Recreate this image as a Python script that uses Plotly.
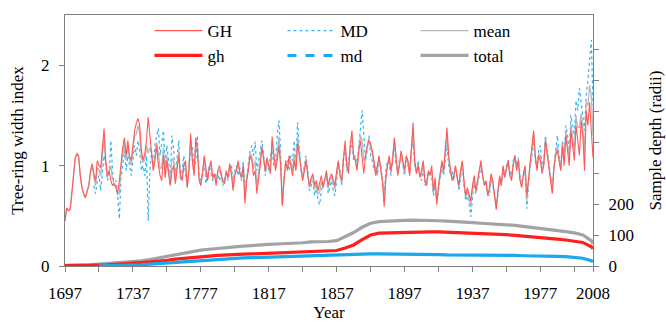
import plotly.graph_objects as go

years = list(range(1697, 2009))

GH = [
 0.45,0.58,0.55,0.56,0.72,0.95,1.08,1.12,1.10,0.90,
 0.78,0.72,0.68,0.74,0.80,0.95,1.02,0.92,0.85,1.05,
 1.00,0.98,1.15,1.37,1.05,0.90,0.95,0.85,0.80,0.82,
 0.78,0.72,0.85,1.05,1.18,1.28,1.10,1.25,1.10,1.05,
 1.20,1.35,1.42,1.47,1.40,1.15,1.05,1.12,1.25,1.48,
 1.30,1.10,0.95,1.05,1.20,1.00,0.90,0.85,1.10,0.88,
 1.05,0.92,0.80,0.95,1.00,0.82,0.95,1.10,0.90,0.85,
 1.00,1.05,0.78,0.95,1.32,1.05,0.90,1.28,1.15,0.85,
 0.80,0.92,1.10,0.95,0.85,0.98,1.05,0.88,0.92,0.80,
 0.95,1.00,0.90,0.85,0.82,0.95,0.88,1.02,0.92,0.75,
 0.90,0.95,1.05,0.92,0.88,1.00,0.62,0.85,0.95,1.10,
 1.05,0.90,0.95,0.72,0.85,1.00,1.18,1.05,0.95,1.08,
 1.00,0.92,1.29,1.10,0.95,1.05,1.20,1.00,0.60,0.85,
 1.05,0.95,1.10,1.00,0.90,1.05,0.95,1.22,1.10,1.00,
 0.85,0.95,1.05,0.90,0.80,0.88,0.92,0.80,0.85,0.75,
 0.82,0.90,0.78,0.85,0.95,0.80,0.88,0.92,0.85,0.80,
 0.95,1.05,0.90,0.85,1.05,1.25,1.00,0.92,1.20,1.35,
 1.10,1.05,0.95,1.15,1.25,1.05,0.92,1.10,1.20,1.25,
 1.22,1.15,1.05,0.90,1.00,1.10,0.95,0.85,0.59,0.88,
 1.00,1.10,0.95,1.05,1.28,1.10,0.90,1.00,1.15,1.05,
 0.95,1.10,1.05,0.90,1.20,1.43,1.05,0.92,1.00,0.88,
 0.95,1.05,0.85,0.80,0.95,0.90,1.00,0.75,0.88,0.61,
 0.80,0.92,1.05,0.95,1.15,1.38,1.10,0.95,0.85,0.90,
 1.00,0.88,0.80,0.95,1.05,0.85,0.70,0.78,0.72,0.65,
 0.80,0.90,0.75,0.85,0.95,1.05,0.90,0.80,0.85,0.70,
 0.78,0.92,0.85,0.68,0.56,0.75,0.90,0.80,1.00,0.88,
 0.95,1.05,0.90,0.85,1.00,1.10,0.95,1.05,0.85,0.78,
 0.92,1.00,0.70,0.88,1.05,1.20,1.35,1.10,0.95,1.10,
 1.05,0.92,1.00,1.25,1.10,0.95,0.85,0.72,0.98,1.10,
 1.15,1.05,0.95,1.20,1.00,1.30,1.15,1.00,1.35,1.20,
 1.05,1.40,1.25,1.10,1.45,1.30,0.95,1.55,1.40,1.63,
 1.35,1.08]

MD = [
 None,None,None,None,None,None,None,None,None,None,
 None,None,None,None,None,None,None,0.80,0.72,0.85,
 0.90,0.75,0.95,1.10,1.00,0.85,0.92,1.25,0.95,0.80,
 0.85,0.70,0.47,0.88,1.00,1.15,0.95,1.10,1.00,0.90,
 1.05,1.20,1.10,1.25,1.15,0.95,1.00,0.90,1.10,0.45,
 0.95,1.15,1.00,1.20,1.30,1.37,1.10,1.25,1.35,1.00,
 1.20,1.05,0.85,1.30,1.15,0.90,1.05,1.25,0.85,0.95,
 1.10,0.90,0.80,1.00,1.15,1.20,0.95,1.05,1.30,0.90,
 0.85,0.95,1.05,0.82,0.90,1.00,0.92,0.85,0.88,0.92,
 0.90,0.85,0.95,0.80,0.88,0.92,0.85,0.95,1.00,0.82,
 0.95,1.00,0.90,0.98,0.85,1.05,0.75,0.90,1.00,1.15,
 1.20,1.10,1.24,0.95,1.05,1.15,1.25,1.10,0.90,1.05,
 0.95,1.10,1.15,1.00,1.05,1.30,1.45,1.15,0.62,0.90,
 1.00,1.05,0.95,1.10,1.05,1.25,1.00,1.43,1.15,0.95,
 0.90,1.00,1.10,0.95,0.75,0.80,0.85,0.70,0.80,0.65,
 0.61,0.75,0.80,0.85,0.90,0.72,0.80,0.85,0.75,0.70,
 0.85,1.00,0.95,0.80,1.10,1.15,0.95,1.05,1.15,1.25,
 1.05,1.10,1.00,1.20,1.40,1.55,1.30,1.05,1.15,1.30,
 1.10,1.05,0.95,1.00,0.90,1.05,1.00,0.85,0.70,0.95,
 1.05,1.00,0.90,1.10,1.20,1.00,0.95,1.05,1.10,1.00,
 0.90,1.05,1.00,0.95,1.15,1.25,1.00,0.95,1.05,0.90,
 0.85,1.00,0.80,0.85,0.90,0.95,0.88,0.70,0.80,0.65,
 0.75,0.88,1.00,0.90,1.05,1.20,1.00,0.90,0.95,0.85,
 0.95,0.90,0.75,0.90,1.00,0.80,0.65,0.70,0.62,0.49,
 0.70,0.85,0.72,0.80,0.90,1.00,0.88,0.85,0.80,0.72,
 0.70,0.88,0.80,0.72,0.62,0.70,0.85,0.82,0.95,0.90,
 1.00,1.05,0.95,0.90,1.05,1.10,1.00,1.08,0.90,0.85,
 0.88,0.95,0.57,0.80,1.00,1.10,1.25,1.05,1.00,1.15,
 1.20,1.00,1.05,1.30,1.15,1.00,0.90,0.80,1.00,1.15,
 1.30,1.10,1.00,1.25,1.10,1.40,1.30,1.15,1.50,1.40,
 1.30,1.65,1.55,1.77,1.60,1.50,1.35,1.70,1.85,2.05,
 2.25,1.60]

MEAN = [
 0.45,0.57,0.55,0.56,0.72,0.94,1.07,1.11,1.09,0.90,
 0.78,0.72,0.68,0.74,0.80,0.93,1.00,0.88,0.80,0.98,
 0.96,0.90,1.08,1.28,1.03,0.88,0.94,1.00,0.86,0.81,
 0.80,0.71,0.72,0.99,1.12,1.23,1.05,1.20,1.07,1.00,
 1.15,1.30,1.31,1.40,1.32,1.08,1.03,1.05,1.20,1.12,
 1.18,1.12,0.97,1.10,1.23,1.12,0.97,0.98,1.18,0.92,
 1.10,0.96,0.82,1.07,1.05,0.85,0.98,1.15,0.88,0.88,
 1.03,0.99,0.79,0.97,1.26,1.10,0.92,1.20,1.20,0.87,
 0.82,0.93,1.08,0.90,0.87,0.99,1.00,0.87,0.90,0.84,
 0.93,0.95,0.92,0.83,0.84,0.94,0.87,0.99,0.95,0.78,
 0.92,0.97,0.99,0.94,0.87,1.02,0.67,0.87,0.97,1.12,
 1.10,0.97,1.05,0.80,0.92,1.05,1.20,1.07,0.93,1.07,
 0.98,0.99,1.24,1.06,0.99,1.13,1.29,1.05,0.61,0.87,
 1.03,0.98,1.05,1.04,0.95,1.12,0.97,1.29,1.12,0.98,
 0.87,0.97,1.07,0.92,0.78,0.85,0.90,0.76,0.83,0.71,
 0.74,0.84,0.79,0.85,0.93,0.77,0.85,0.89,0.81,0.76,
 0.91,1.03,0.92,0.83,1.07,1.21,0.98,0.97,1.18,1.31,
 1.08,1.07,0.97,1.17,1.30,1.25,1.05,1.08,1.18,1.27,
 1.18,1.12,1.02,0.93,0.97,1.08,0.97,0.85,0.63,0.90,
 1.02,1.07,0.93,1.07,1.25,1.07,0.92,1.02,1.13,1.03,
 0.93,1.08,1.03,0.92,1.18,1.36,1.03,0.93,1.02,0.89,
 0.92,1.03,0.83,0.82,0.93,0.92,0.95,0.73,0.85,0.63,
 0.78,0.90,1.03,0.93,1.12,1.31,1.06,0.93,0.89,0.88,
 0.98,0.89,0.78,0.93,1.03,0.83,0.68,0.75,0.68,0.59,
 0.76,0.88,0.74,0.83,0.93,1.03,0.89,0.82,0.83,0.71,
 0.75,0.90,0.83,0.70,0.58,0.73,0.88,0.81,0.98,0.89,
 0.97,1.05,0.92,0.87,1.02,1.10,0.97,1.06,0.87,0.80,
 0.90,0.98,0.65,0.85,1.03,1.16,1.31,1.08,0.97,1.12,
 1.10,0.95,1.02,1.27,1.12,0.97,0.87,0.75,0.99,1.12,
 1.20,1.07,0.97,1.22,1.04,1.34,1.21,1.06,1.41,1.28,
 1.15,1.50,1.38,1.38,1.52,1.39,1.12,1.63,1.60,1.80,
 1.70,1.30]

depth_years = list(range(1697, 2008, 5)) + [2008]

depth_total = [
 2,2,3,4,6,8,10,12,14,17,
 21,26,31,37,42,47,51,54,57,60,
 62,64,66,69,70,71,72,72,75,78,
 78,79,82,95,108,125,138,143,145,146,
 147,148,148,147,146,145,144,142,140,138,
 137,135,133,131,128,125,122,118,115,111,
 107,100,82,72]

depth_gh = [
 1,1,1,2,3,4,5,7,9,11,
 13,15,18,22,25,28,30,32,34,36,
 37,38,39,40,41,42,43,43,44,45,
 46,47,50,58,68,85,100,106,107,108,
 109,110,110,110,110,109,109,108,107,106,
 104,103,101,99,97,94,92,89,87,84,
 81,76,62,56]

depth_md = [
 None,None,None,None,0.5,1,1,2,3,4,
 6,8,10,12,14,16,17,19,21,23,
 25,26,27,28,29,30,30,31,31,32,
 33,34,35,36,37,38,39,39,39,38,
 38,38,37,37,37,36,36,36,35,35,
 35,34,34,34,33,33,32,32,31,30,
 28,25,17,14]

assert len(GH) == len(years) == len(MD) == len(MEAN)
assert len(depth_years) == len(depth_total) == len(depth_gh) == len(depth_md)

x_tickvals = [1697, 1717, 1737, 1757, 1777, 1797, 1817, 1837, 1857, 1877,
              1897, 1917, 1937, 1957, 1977, 1997, 2008]
x_ticktext = ["1697", "", "1737", "", "1777", "", "1817", "", "1857", "",
              "1897", "", "1937", "", "1977", "", "2008"]
y2_tickvals = [0, 100, 200, 300, 400, 500, 600, 700]
y2_ticktext = ["0", "100", "200", "", "", "", "", ""]

FONT = "Liberation Serif"
C_RED_THIN = "#ff5a5a"
C_RED = "#ff1f1f"
C_BLUE = "#35b3ef"
C_BLUE_THICK = "#1aa9ec"
C_GRAY_THIN = "#b8b8b8"
C_GRAY = "#a3a3a3"

fig = go.Figure()

# sample depth (right axis)
fig.add_trace(go.Scatter(x=depth_years, y=depth_total, mode="lines", name="total",
                         line=dict(color=C_GRAY, width=3.2), yaxis="y2",
                         legend="legend2", legendrank=3))
fig.add_trace(go.Scatter(x=depth_years, y=depth_gh, mode="lines", name="gh",
                         line=dict(color=C_RED, width=3.2), yaxis="y2",
                         legend="legend2", legendrank=1))
fig.add_trace(go.Scatter(x=depth_years, y=depth_md, mode="lines", name="md",
                         line=dict(color=C_BLUE_THICK, width=3.2), yaxis="y2",
                         showlegend=False))
fig.add_trace(go.Scatter(x=[None], y=[None], mode="lines", name="md",
                         line=dict(color=C_BLUE_THICK, width=3, dash="dash"), yaxis="y2",
                         legend="legend2", legendrank=2))

# index chronologies (left axis)
fig.add_trace(go.Scatter(x=years, y=MD, mode="lines", name="MD",
                         line=dict(color=C_BLUE, width=1.2, dash="dot"),
                         legend="legend", legendrank=2))
fig.add_trace(go.Scatter(x=years, y=MEAN, mode="lines", name="mean",
                         line=dict(color=C_GRAY_THIN, width=1.3),
                         legend="legend", legendrank=3))
fig.add_trace(go.Scatter(x=years, y=GH, mode="lines", name="GH",
                         line=dict(color=C_RED_THIN, width=1.1),
                         legend="legend", legendrank=1))

legend_common = dict(orientation="h", xref="paper", yref="paper", x=0.16,
                     xanchor="left", yanchor="middle", bgcolor="rgba(0,0,0,0)",
                     font=dict(family=FONT, size=17, color="black"),
                     entrywidth=70, entrywidthmode="pixels", itemwidth=48,
                     traceorder="normal")

fig.update_layout(
    width=666, height=324,
    margin=dict(l=65, r=73, t=15, b=58, autoexpand=False),
    paper_bgcolor="white", plot_bgcolor="white",
    font=dict(family=FONT, size=17, color="black"),
    showlegend=True,
    legend=dict(y=0.936, **legend_common),
    legend2=dict(y=0.837, **legend_common),
    xaxis=dict(range=[1697, 2008], tickvals=x_tickvals, ticktext=x_ticktext,
               ticks="outside", ticklen=5, tickcolor="#808080",
               showline=True, linecolor="#808080", linewidth=1.3, mirror=True,
               showgrid=False, zeroline=False, ticklabelstandoff=6,
               automargin=False,
               title=dict(text="Year", font=dict(size=17), standoff=4),
               tickfont=dict(size=17)),
    yaxis=dict(range=[0, 2.5], tickvals=[0, 1, 2], ticks="outside", ticklen=5,
               tickcolor="#808080", showline=True, linecolor="#808080", linewidth=1.3,
               showgrid=False, zeroline=False, ticklabelstandoff=6, automargin=False,
               title=dict(text="Tree-ring width index", font=dict(size=17), standoff=13),
               tickfont=dict(size=17)),
    yaxis2=dict(range=[0, 810], overlaying="y", side="right",
                tickvals=y2_tickvals, ticktext=y2_ticktext,
                ticks="outside", ticklen=5, tickcolor="#808080",
                showline=True, linecolor="#808080", linewidth=1.3,
                showgrid=False, zeroline=False, ticklabelstandoff=6, automargin=False,
                title=dict(text="Sample depth (radii)", font=dict(size=17), standoff=16),
                tickfont=dict(size=17)),
)

fig.write_html("out.html")
